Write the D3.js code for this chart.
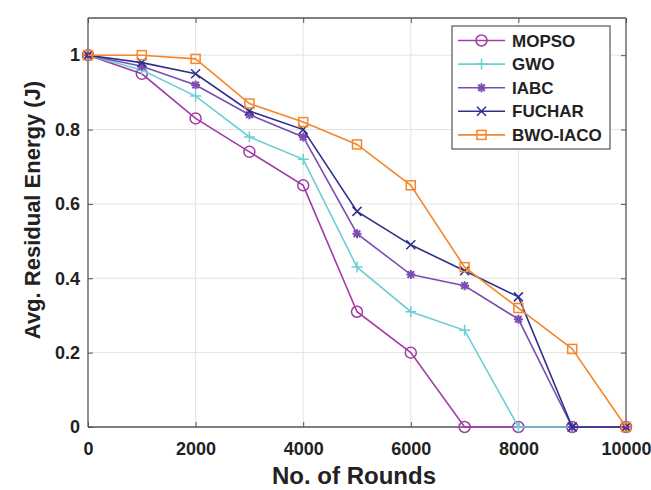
<!DOCTYPE html>
<html><head><meta charset="utf-8">
<script src="https://cdn.jsdelivr.net/npm/d3@7/dist/d3.min.js"></script>
<style>body{margin:0;background:#fff;} text{font-family:"Liberation Sans",Arial,sans-serif;font-weight:bold;}</style>
</head><body>
<svg id="c" width="651" height="490"></svg>
<script>
const rounds = [0,1000,2000,3000,4000,5000,6000,7000,8000,9000,10000];
const mopso  = [1,0.95,0.83,0.74,0.65,0.31,0.20,0,0,0,0];
const gwo    = [1,0.96,0.89,0.78,0.72,0.43,0.31,0.26,0,0,0];
const iabc   = [1,0.97,0.92,0.84,0.78,0.52,0.41,0.38,0.29,0,0];
const fuchar = [1,0.98,0.95,0.85,0.80,0.58,0.49,0.42,0.35,0,0];
const bwo    = [1,1.00,0.99,0.87,0.82,0.76,0.65,0.43,0.32,0.21,0];
const seriesNames = ["MOPSO","GWO","IABC","FUCHAR","BWO-IACO"];
const xTicks = [0,2000,4000,6000,8000,10000];
const yTicks = [0,0.2,0.4,0.6,0.8,1];

const colors = ["#a13ca6","#6ccfd2","#7b4db3","#2f2f8c","#f5862a"];
const markers = ["circle","plus","asterisk","cross","square"];
const seriesData = [mopso,gwo,iabc,fuchar,bwo];

const svg = d3.select("#c");
const L=88,R=626,T=18,B=427;
const x = d3.scaleLinear().domain([0,10000]).range([L,R]);
const y = d3.scaleLinear().domain([0,1.1]).range([B,T]);

// grid
svg.append("g").selectAll("line").data(xTicks.slice(1,-1)).join("line")
  .attr("x1",d=>x(d)).attr("x2",d=>x(d)).attr("y1",T).attr("y2",B)
  .attr("stroke","#e3e3e3").attr("stroke-width",1);
svg.append("g").selectAll("line").data(yTicks.slice(1)).join("line")
  .attr("x1",L).attr("x2",R).attr("y1",d=>y(d)).attr("y2",d=>y(d))
  .attr("stroke","#e3e3e3").attr("stroke-width",1);

// axes
const ax = svg.append("g").attr("transform",`translate(0,${B})`)
  .call(d3.axisBottom(x).tickValues(xTicks).tickSize(-5).tickPadding(15).tickFormat(d3.format("d")));
const ay = svg.append("g").attr("transform",`translate(${L},0)`)
  .call(d3.axisLeft(y).tickValues(yTicks).tickSize(-5).tickPadding(8).tickFormat(d=>d===0||d===1?String(d):d3.format(".1f")(d)));
const ax2 = svg.append("g").attr("transform",`translate(0,${T})`)
  .call(d3.axisTop(x).tickValues(xTicks).tickSize(-5).tickFormat(""));
const ay2 = svg.append("g").attr("transform",`translate(${R},0)`)
  .call(d3.axisRight(y).tickValues(yTicks).tickSize(-5).tickFormat(""));
[ax,ay,ax2,ay2].forEach(g=>{
  g.select(".domain").attr("stroke","#555").attr("stroke-width",1.3);
  g.selectAll(".tick line").attr("stroke","#555");
  g.selectAll(".tick text").attr("fill","#222").style("font-size","18px").style("font-weight","bold").style("font-family","'Liberation Sans',Arial,sans-serif");
});
ax.select(".domain").attr("d",`M${L},0H${R}`);
ay.select(".domain").attr("d",`M0,${B}V${T}`);
ax2.select(".domain").attr("d",`M${L},0H${R}`);
ay2.select(".domain").attr("d",`M0,${B}V${T}`);

// axis labels
svg.append("text").attr("x",354).attr("y",484).attr("text-anchor","middle")
  .attr("fill","#222").style("font-size","24px").text("No. of Rounds");
svg.append("text").attr("transform",`translate(40,210) rotate(-90)`).attr("text-anchor","middle")
  .attr("fill","#222").style("font-size","22px").text("Avg. Residual Energy (J)");

function drawMarker(g, type, cx, cy, color){
  const s=4.5;
  if(type==="circle") g.append("circle").attr("cx",cx).attr("cy",cy).attr("r",5.5).attr("fill","none").attr("stroke",color).attr("stroke-width",1.5);
  else if(type==="square") g.append("rect").attr("x",cx-4.5).attr("y",cy-4.5).attr("width",9).attr("height",9).attr("fill","none").attr("stroke",color).attr("stroke-width",1.5);
  else if(type==="plus") g.append("path").attr("d",`M${cx-s-1},${cy}H${cx+s+1}M${cx},${cy-s-1}V${cy+s+1}`).attr("stroke",color).attr("stroke-width",1.5);
  else if(type==="cross") g.append("path").attr("d",`M${cx-s},${cy-s}L${cx+s},${cy+s}M${cx-s},${cy+s}L${cx+s},${cy-s}`).attr("stroke",color).attr("stroke-width",1.5);
  else if(type==="asterisk") g.append("path").attr("d",`M${cx-s},${cy}H${cx+s}M${cx},${cy-s}V${cy+s}M${cx-3.3},${cy-3.3}L${cx+3.3},${cy+3.3}M${cx-3.3},${cy+3.3}L${cx+3.3},${cy-3.3}`).attr("stroke",color).attr("stroke-width",2);
}

const line = d3.line().x((d,i)=>x(rounds[i])).y(d=>y(d));
seriesData.forEach((vals,k)=>{
  const g = svg.append("g");
  g.append("path").attr("d",line(vals)).attr("fill","none").attr("stroke",colors[k]).attr("stroke-width",1.6);
  vals.forEach((v,i)=>drawMarker(g,markers[k],x(rounds[i]),y(v),colors[k]));
});

// legend
const lg = svg.append("g");
lg.append("rect").attr("x",452).attr("y",26).attr("width",158).attr("height",123)
  .attr("fill","#fff").attr("stroke","#555").attr("stroke-width",1.2);
seriesNames.forEach((n,k)=>{
  const yy = 40.5 + k*23.6;
  lg.append("line").attr("x1",458).attr("x2",505).attr("y1",yy).attr("y2",yy).attr("stroke",colors[k]).attr("stroke-width",1.6);
  drawMarker(lg,markers[k],481.5,yy,colors[k]);
  lg.append("text").attr("x",512).attr("y",yy+6).attr("fill","#222").style("font-size","17px").text(n);
});
</script>
</body></html>
